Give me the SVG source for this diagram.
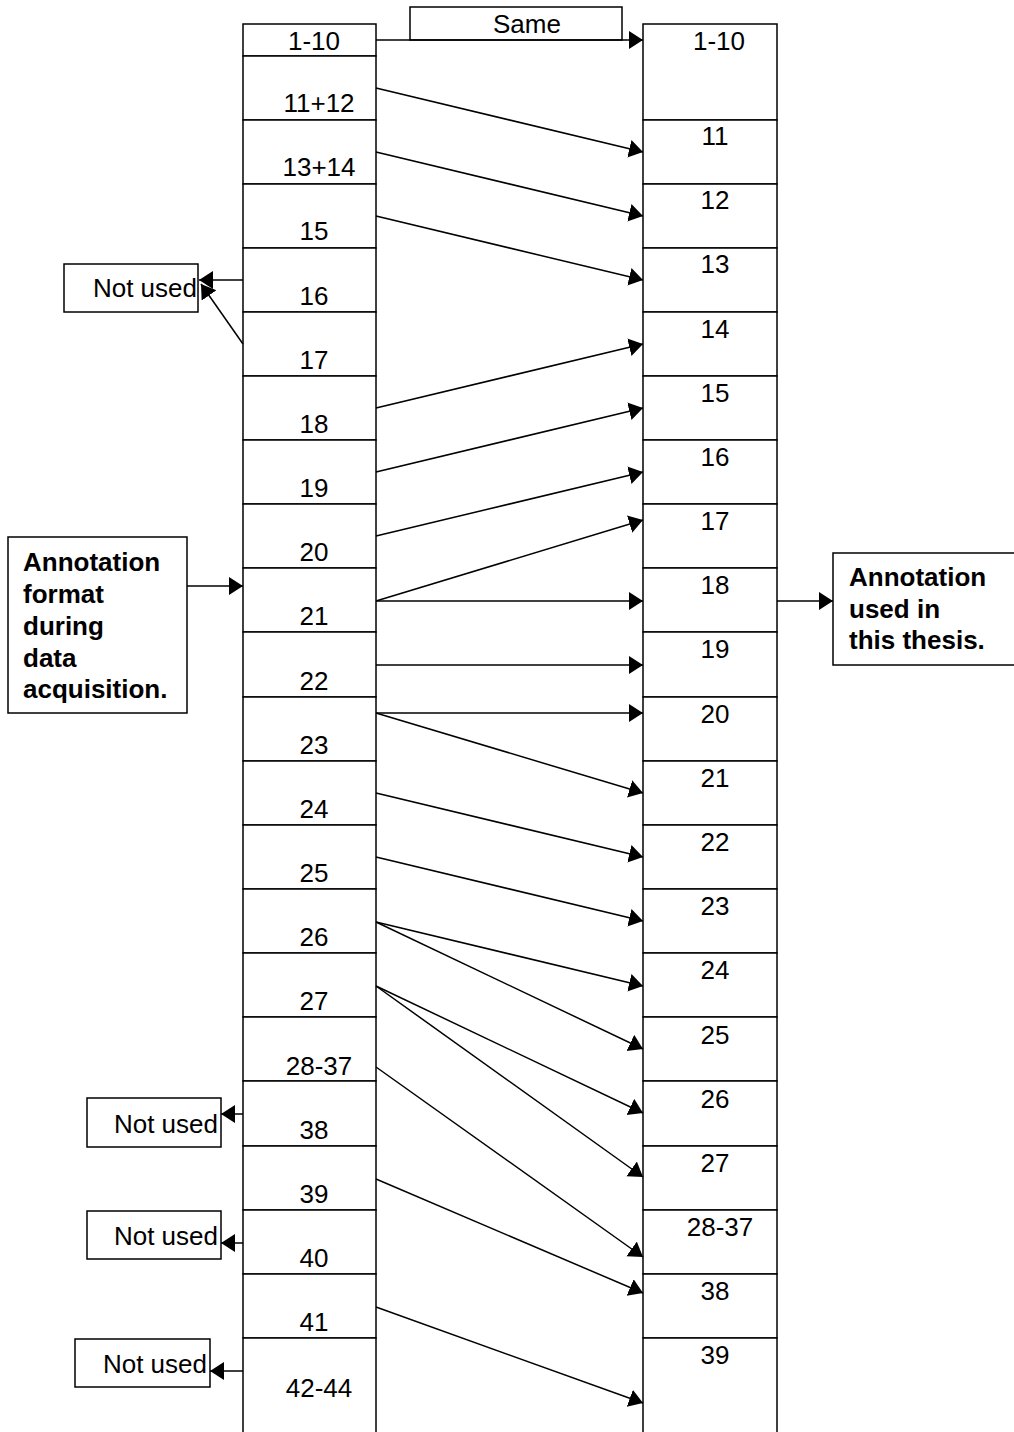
<svg xmlns="http://www.w3.org/2000/svg" width="1014" height="1432" viewBox="0 0 1014 1432">
  <defs>
    <marker id="arrow" markerUnits="userSpaceOnUse" markerWidth="16" markerHeight="20" refX="14" refY="9" orient="auto">
      <path d="M0,0 L14,9 L0,18 z" fill="#000"/>
    </marker>
  </defs>
  <style>
    rect { fill: #fff; stroke: #000; stroke-width: 1.5; }
    text { font-family: "Liberation Sans", Arial, sans-serif; font-size: 26px; fill: #000; }
    .l { text-anchor: middle; }
    .b { font-weight: bold; }
    .e { text-anchor: end; }
    #connectors line { stroke: #000; stroke-width: 1.5; fill: none; }
    .arr { marker-end: url(#arrow); }
  </style>
  <rect x="0" y="0" width="1014" height="1432" style="stroke:none;fill:#fff"/>

  <!-- left column: recording format -->
  <g id="left-column">
    <g id="L1-10"><rect x="243" y="24" width="133" height="32"/><text class="l" x="314" y="50">1-10</text></g>
    <g id="L11-12"><rect x="243" y="56" width="133" height="64"/><text class="l" x="319" y="112">11+12</text></g>
    <g id="L13-14"><rect x="243" y="120" width="133" height="64"/><text class="l" x="319" y="176">13+14</text></g>
    <g id="L15"><rect x="243" y="184" width="133" height="64"/><text class="l" x="314" y="240">15</text></g>
    <g id="L16"><rect x="243" y="248" width="133" height="64"/><text class="l" x="314" y="305">16</text></g>
    <g id="L17"><rect x="243" y="312" width="133" height="64"/><text class="l" x="314" y="369">17</text></g>
    <g id="L18"><rect x="243" y="376" width="133" height="64"/><text class="l" x="314" y="433">18</text></g>
    <g id="L19"><rect x="243" y="440" width="133" height="64"/><text class="l" x="314" y="497">19</text></g>
    <g id="L20"><rect x="243" y="504" width="133" height="64"/><text class="l" x="314" y="561">20</text></g>
    <g id="L21"><rect x="243" y="568" width="133" height="64"/><text class="l" x="314" y="625">21</text></g>
    <g id="L22"><rect x="243" y="632" width="133" height="65"/><text class="l" x="314" y="690">22</text></g>
    <g id="L23"><rect x="243" y="697" width="133" height="64"/><text class="l" x="314" y="754">23</text></g>
    <g id="L24"><rect x="243" y="761" width="133" height="64"/><text class="l" x="314" y="818">24</text></g>
    <g id="L25"><rect x="243" y="825" width="133" height="64"/><text class="l" x="314" y="882">25</text></g>
    <g id="L26"><rect x="243" y="889" width="133" height="64"/><text class="l" x="314" y="946">26</text></g>
    <g id="L27"><rect x="243" y="953" width="133" height="64"/><text class="l" x="314" y="1010">27</text></g>
    <g id="L28-37"><rect x="243" y="1017" width="133" height="64"/><text class="l" x="319" y="1075">28-37</text></g>
    <g id="L38"><rect x="243" y="1081" width="133" height="65"/><text class="l" x="314" y="1139">38</text></g>
    <g id="L39"><rect x="243" y="1146" width="133" height="64"/><text class="l" x="314" y="1203">39</text></g>
    <g id="L40"><rect x="243" y="1210" width="133" height="64"/><text class="l" x="314" y="1267">40</text></g>
    <g id="L41"><rect x="243" y="1274" width="133" height="64"/><text class="l" x="314" y="1331">41</text></g>
    <g id="L42-44"><rect x="243" y="1338" width="133" height="110"/><text class="l" x="319" y="1397">42-44</text></g>
  </g>

  <!-- right column: format used afterwards -->
  <g id="right-column">
    <g id="R1-10"><rect x="643" y="24" width="134" height="96"/><text class="l" x="719" y="50">1-10</text></g>
    <g id="R11"><rect x="643" y="120" width="134" height="64"/><text class="l" x="715" y="145">11</text></g>
    <g id="R12"><rect x="643" y="184" width="134" height="64"/><text class="l" x="715" y="209">12</text></g>
    <g id="R13"><rect x="643" y="248" width="134" height="64"/><text class="l" x="715" y="273">13</text></g>
    <g id="R14"><rect x="643" y="312" width="134" height="64"/><text class="l" x="715" y="338">14</text></g>
    <g id="R15"><rect x="643" y="376" width="134" height="64"/><text class="l" x="715" y="402">15</text></g>
    <g id="R16"><rect x="643" y="440" width="134" height="64"/><text class="l" x="715" y="466">16</text></g>
    <g id="R17"><rect x="643" y="504" width="134" height="64"/><text class="l" x="715" y="530">17</text></g>
    <g id="R18"><rect x="643" y="568" width="134" height="64"/><text class="l" x="715" y="594">18</text></g>
    <g id="R19"><rect x="643" y="632" width="134" height="65"/><text class="l" x="715" y="658">19</text></g>
    <g id="R20"><rect x="643" y="697" width="134" height="64"/><text class="l" x="715" y="723">20</text></g>
    <g id="R21"><rect x="643" y="761" width="134" height="64"/><text class="l" x="715" y="787">21</text></g>
    <g id="R22"><rect x="643" y="825" width="134" height="64"/><text class="l" x="715" y="851">22</text></g>
    <g id="R23"><rect x="643" y="889" width="134" height="64"/><text class="l" x="715" y="915">23</text></g>
    <g id="R24"><rect x="643" y="953" width="134" height="64"/><text class="l" x="715" y="979">24</text></g>
    <g id="R25"><rect x="643" y="1017" width="134" height="64"/><text class="l" x="715" y="1044">25</text></g>
    <g id="R26"><rect x="643" y="1081" width="134" height="65"/><text class="l" x="715" y="1108">26</text></g>
    <g id="R27"><rect x="643" y="1146" width="134" height="64"/><text class="l" x="715" y="1172">27</text></g>
    <g id="R28-37"><rect x="643" y="1210" width="134" height="64"/><text class="l" x="720" y="1236">28-37</text></g>
    <g id="R38"><rect x="643" y="1274" width="134" height="64"/><text class="l" x="715" y="1300">38</text></g>
    <g id="R39"><rect x="643" y="1338" width="134" height="110"/><text class="l" x="715" y="1364">39</text></g>
  </g>

  <g id="same-label"><rect x="410" y="7" width="212" height="33"/><text class="l" x="527" y="33">Same</text></g>

  <g id="not-used-1"><rect x="64" y="264" width="134" height="48"/><text class="e" x="197" y="297">Not used</text></g>
  <g id="not-used-2"><rect x="87" y="1098" width="134" height="49"/><text class="e" x="218" y="1133">Not used</text></g>
  <g id="not-used-3"><rect x="87" y="1211" width="134" height="48"/><text class="e" x="218" y="1245">Not used</text></g>
  <g id="not-used-4"><rect x="75" y="1339" width="135" height="48"/><text class="e" x="207" y="1373">Not used</text></g>

  <g id="acquisition-note">
    <rect x="8" y="537" width="179" height="176"/>
    <text class="b" x="23" y="571">Annotation</text>
    <text class="b" x="23" y="603">format</text>
    <text class="b" x="23" y="635">during</text>
    <text class="b" x="23" y="667">data</text>
    <text class="b" x="23" y="698">acquisition.</text>
  </g>

  <g id="thesis-note">
    <rect x="833" y="553" width="190" height="112"/>
    <text class="b" x="849" y="586">Annotation</text>
    <text class="b" x="849" y="618">used in</text>
    <text class="b" x="849" y="649">this thesis.</text>
  </g>

  <g id="connectors">
    <line class="arr" x1="376" y1="40" x2="643" y2="40"/>
    <line class="arr" x1="376" y1="88" x2="643" y2="152"/>
    <line class="arr" x1="376" y1="152" x2="643" y2="216"/>
    <line class="arr" x1="376" y1="216" x2="643" y2="280"/>
    <line class="arr" x1="243" y1="280" x2="199" y2="280"/>
    <line class="arr" x1="243" y1="344" x2="201" y2="284"/>
    <line class="arr" x1="376" y1="408" x2="643" y2="344"/>
    <line class="arr" x1="376" y1="472" x2="643" y2="408"/>
    <line class="arr" x1="376" y1="536" x2="643" y2="472"/>
    <line class="arr" x1="376" y1="601" x2="643" y2="520"/>
    <line class="arr" x1="376" y1="601" x2="643" y2="601"/>
    <line class="arr" x1="376" y1="665" x2="643" y2="665"/>
    <line class="arr" x1="376" y1="713" x2="643" y2="713"/>
    <line class="arr" x1="376" y1="713" x2="643" y2="793"/>
    <line class="arr" x1="376" y1="793" x2="643" y2="857"/>
    <line class="arr" x1="376" y1="857" x2="643" y2="921"/>
    <line class="arr" x1="376" y1="922" x2="643" y2="986"/>
    <line class="arr" x1="376" y1="922" x2="643" y2="1049"/>
    <line class="arr" x1="376" y1="986" x2="643" y2="1113"/>
    <line class="arr" x1="376" y1="986" x2="643" y2="1177"/>
    <line class="arr" x1="376" y1="1067" x2="643" y2="1257"/>
    <line class="arr" x1="376" y1="1179" x2="643" y2="1293"/>
    <line class="arr" x1="376" y1="1307" x2="643" y2="1403"/>
    <line class="arr" x1="187" y1="586" x2="243" y2="586"/>
    <line class="arr" x1="777" y1="601" x2="833" y2="601"/>
    <line class="arr" x1="243" y1="1114" x2="221" y2="1114"/>
    <line class="arr" x1="243" y1="1243" x2="221" y2="1243"/>
    <line class="arr" x1="243" y1="1371" x2="210" y2="1371"/>
  </g>
</svg>
